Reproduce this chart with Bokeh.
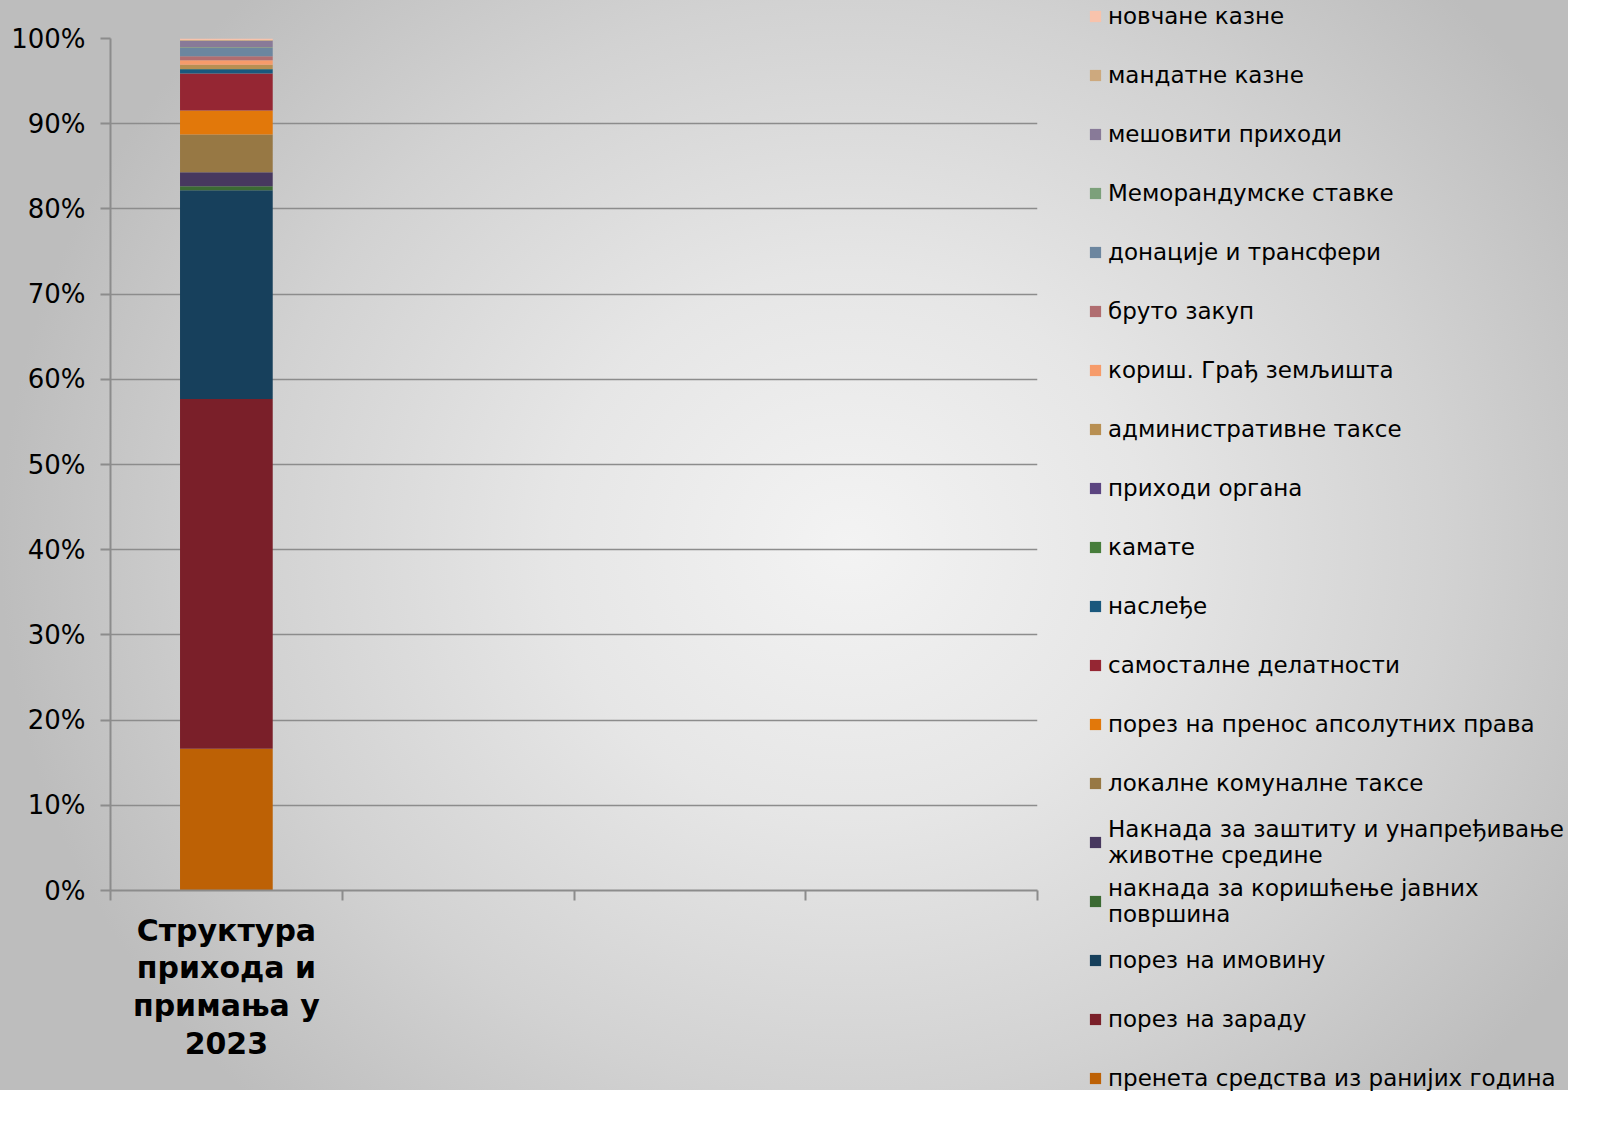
from bokeh.plotting import figure
from bokeh.models import (ColumnDataSource, Range1d, FixedTicker, LinearAxis,
                          NumeralTickFormatter, Legend, LegendItem)
from bokeh.embed import file_html
from bokeh.resources import INLINE

# ---------------- data ----------------
categories = ["Структура прихода и примања у 2023"]
category_label = "Структура\nприхода и\nпримања у\n2023"

# stack order: bottom -> top
series_names = [
    "пренета средства из ранијих година",
    "порез на зараду",
    "порез на имовину",
    "накнада за коришћење јавних\nповршина",
    "Накнада за заштиту и унапређивање\nживотне средине",
    "локалне комуналне таксе",
    "порез на пренос апсолутних права",
    "самосталне делатности",
    "наслеђе",
    "камате",
    "приходи органа",
    "административне таксе",
    "кориш. Грађ земљишта",
    "бруто закуп",
    "донације и трансфери",
    "Меморандумске ставке",
    "мешовити приходи",
    "мандатне казне",
    "новчане казне",
]
series_values = [16.67, 41.08, 24.53, 0.47, 1.64, 4.46, 2.82, 4.34, 0.50, 0.02,
                 0.02, 0.50, 0.52, 0.47, 0.97, 0.08, 0.76, 0.08, 0.19]
series_colors = ["#BD6105", "#7A1F29", "#17405C", "#3B6A33", "#47385F", "#977844",
                 "#E2780A", "#952633", "#1A587D", "#477D3B", "#5B4480", "#B88F52",
                 "#F69B6A", "#B06D70", "#6C869F", "#7CA07A", "#887A98", "#CDA97E",
                 "#F8C3AC"]
y_ticks = [i / 10 for i in range(11)]
x_ticks = [0, 1, 2, 3, 4]

# ---------------- build ----------------
total = sum(series_values)
keys = [f"s{i}" for i in range(len(series_names))]
data = {"x": [i + 0.5 for i in range(len(categories))]}
for k, v in zip(keys, series_values):
    data[k] = [v / total]
source = ColumnDataSource(data)

p = figure(frame_width=927, frame_height=852, x_range=Range1d(0, 4), y_range=Range1d(0, 1),
           output_backend="svg", toolbar_location=None,
           min_border_left=110, min_border_right=0, min_border_top=38,
           min_border_bottom=200)
p.border_fill_color = None
p.background_fill_color = None
p.outline_line_color = None
p.styles = {
    "background-image": "radial-gradient(850px 780px at 850px 545px, #f3f3f3 0%, #e6e6e6 35%, #d2d2d2 70%, #bdbdbd 100%)",
    "background-size": "1568px 1090px",
    "background-repeat": "no-repeat",
}

renderers = p.vbar_stack(keys, x="x", width=0.4, source=source, color=series_colors,
                         line_color=None)

GRAY = "#8C8C8C"
FONT = "DejaVu Sans"

# y axis
ya = p.yaxis[0]
ya.ticker = FixedTicker(ticks=y_ticks)
ya.formatter = NumeralTickFormatter(format="0%")
ya.major_label_text_font = FONT
ya.major_label_text_font_size = "26px"
ya.major_label_text_color = "#000000"
ya.axis_line_color = GRAY
ya.axis_line_width = 2
ya.major_tick_line_color = GRAY
ya.major_tick_line_width = 2
ya.major_tick_out = 10
ya.major_tick_in = 0
ya.minor_tick_line_color = None
ya.major_label_standoff = 15

# x axis (tick marks only)
xa = p.xaxis[0]
xa.ticker = FixedTicker(ticks=x_ticks)
xa.major_label_overrides = {t: "" for t in x_ticks}
xa.major_label_text_font_size = "1px"
xa.axis_line_color = GRAY
xa.axis_line_width = 2
xa.major_tick_line_color = GRAY
xa.major_tick_line_width = 2
xa.major_tick_out = 10
xa.major_tick_in = 0
xa.minor_tick_line_color = None
xa.major_label_standoff = 0

# category label axis
xa2 = LinearAxis(ticker=FixedTicker(ticks=data["x"]),
                 major_label_overrides={data["x"][0]: category_label})
xa2.axis_line_color = None
xa2.major_tick_line_color = None
xa2.minor_tick_line_color = None
xa2.major_label_text_font = FONT
xa2.major_label_text_font_size = "30px"
xa2.major_label_text_font_style = "bold"
xa2.major_label_text_color = "#000000"
xa2.major_label_text_line_height = 1.08
xa2.major_label_standoff = 6
p.add_layout(xa2, "below")

p.ygrid.ticker = FixedTicker(ticks=y_ticks)
p.ygrid.grid_line_color = GRAY
p.ygrid.grid_line_width = 1.5
p.xgrid.visible = False

# legend (top item = top of stack)
items = []
for name, r in reversed(list(zip(series_names, renderers))):
    items.append(LegendItem(label=name, renderers=[r]))
legend = Legend(items=items, location=(51, -217))
legend.label_text_font = FONT
legend.label_text_font_size = "23px"
legend.label_text_color = "#000000"
legend.label_text_line_height = 1.41
legend.background_fill_alpha = 0
legend.border_line_alpha = 0
legend.padding = 0
legend.margin = 0
legend.glyph_width = 14
legend.glyph_height = 14
legend.label_standoff = 6
legend.label_height = 58
legend.spacing = 1
p.add_layout(legend, "right")

open("out.html", "w").write(file_html(p, INLINE))
